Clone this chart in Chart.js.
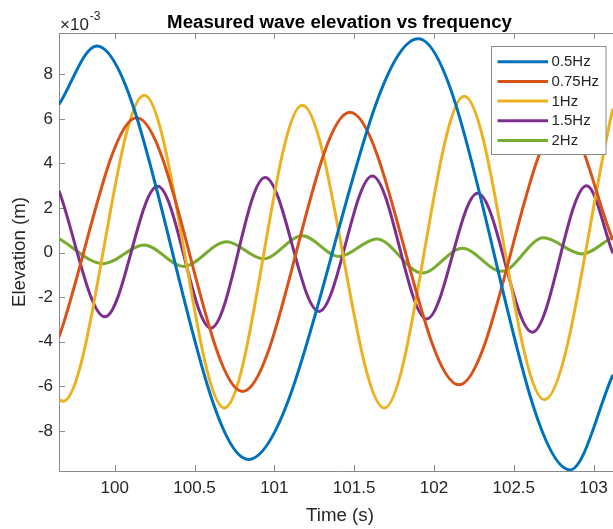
<!DOCTYPE html>
<html lang="en">
<head>
<meta charset="UTF-8">
<title>Measured wave elevation vs frequency</title>
<script src="https://cdn.jsdelivr.net/npm/chart.js"></script>
<style>
    html, body { margin: 0; padding: 0; background: #fff; overflow: hidden; }
    #wrap { width: 625px; height: 529px; }
</style>
</head>
<body>
<div id="wrap"><canvas id="waveChart" width="625" height="529"></canvas></div>
<script>
// values: time (s), elevation (x1e-3 m) at ends, crests and troughs
const seriesLabels = ['0.5Hz', '0.75Hz', '1Hz', '1.5Hz', '2Hz'];
const seriesColors = ['#0072BD', '#D95319', '#EDB120', '#7E2F8E', '#77AC30'];

const t05 = [99.651, 99.887, 100.837, 101.902, 102.853, 103.121];
const e05 = [6.64, 9.27, -9.28, 9.59, -9.75, -5.49];

const t075 = [99.651, 100.138, 100.802, 101.474, 102.157, 102.81, 103.121];
const e075 = [-3.79, 6.05, -6.23, 6.29, -5.93, 6.0, 0.56];

const t1 = [99.651, 99.678, 100.185, 100.687, 101.175, 101.689, 102.19, 102.692, 103.121];
const e1 = [-6.6, -6.67, 7.06, -6.97, 6.61, -6.97, 7.01, -6.6, 6.46];

const t15 = [99.651, 99.939, 100.269, 100.603, 100.942, 101.28, 101.614, 101.955, 102.274, 102.617, 102.957, 103.121];
const e15 = [2.77, -2.88, 2.97, -3.39, 3.37, -2.64, 3.44, -2.98, 2.66, -3.57, 3.0, -0.03];

const t2 = [99.651, 99.929, 100.185, 100.43, 100.702, 100.931, 101.175, 101.405, 101.642, 101.927, 102.178, 102.425, 102.686, 102.926, 103.121];
const e2 = [0.63, -0.5, 0.34, -0.62, 0.49, -0.28, 0.75, -0.18, 0.61, -0.92, 0.19, -0.84, 0.66, -0.06, 0.71];

const xTicks = [100, 100.5, 101, 101.5, 102, 102.5, 103];
const yTicks = [-8, -6, -4, -2, 0, 2, 4, 6, 8];

const FONT = '"Liberation Sans", Arial, Helvetica, sans-serif';
const TXT = '#262626';
const AXIS = '#8a8a8a';

function toPoints(ts, es) {
    return ts.map((t, i) => ({ x: t, y: es[i] }));
}

const allT = [t05, t075, t1, t15, t2];
const allE = [e05, e075, e1, e15, e2];

const datasets = seriesLabels.map((lab, i) => ({
    label: lab,
    data: toPoints(allT[i], allE[i]),
    borderColor: seriesColors[i],
    backgroundColor: seriesColors[i],
    borderWidth: 3,
    pointRadius: 0,
    cubicInterpolationMode: 'monotone',
    clip: 0
}));

// matlab style box: top line + inward ticks
const boxTicks = {
    id: 'boxTicks',
    beforeDatasetsDraw(chart) {
        const { ctx, chartArea: a, scales } = chart;
        ctx.save();
        ctx.strokeStyle = AXIS;
        ctx.lineWidth = 1;
        ctx.beginPath();
        ctx.moveTo(a.left, a.top + 0.5);
        ctx.lineTo(a.right, a.top + 0.5);
        ctx.moveTo(a.right - 0.5, a.top);
        ctx.lineTo(a.right - 0.5, a.bottom);
        scales.x.ticks.forEach(tk => {
            const px = Math.round(scales.x.getPixelForValue(tk.value)) + 0.5;
            ctx.moveTo(px, a.bottom);
            ctx.lineTo(px, a.bottom - 6);
            ctx.moveTo(px, a.top);
            ctx.lineTo(px, a.top + 6);
        });
        scales.y.ticks.forEach(tk => {
            const py = Math.round(scales.y.getPixelForValue(tk.value)) + 0.5;
            ctx.moveTo(a.left, py);
            ctx.lineTo(a.left + 6, py);
            ctx.moveTo(a.right, py);
            ctx.lineTo(a.right - 6, py);
        });
        ctx.stroke();
        ctx.restore();
    }
};

const legendBox = {
    id: 'legendBox',
    afterDatasetsDraw(chart) {
        const { ctx } = chart;
        const x0 = 491.5, y0 = 46.5, w = 114.5, h = 108;
        ctx.save();
        ctx.fillStyle = '#fff';
        ctx.fillRect(x0, y0, w, h);
        ctx.strokeStyle = AXIS;
        ctx.lineWidth = 1;
        ctx.strokeRect(x0, y0, w, h);
        ctx.font = '15px ' + FONT;
        ctx.textBaseline = 'middle';
        chart.data.datasets.forEach((ds, i) => {
            const cy = 61.7 + i * 19.7;
            ctx.strokeStyle = ds.borderColor;
            ctx.lineWidth = 3;
            ctx.beginPath();
            ctx.moveTo(497.5, cy);
            ctx.lineTo(548, cy);
            ctx.stroke();
            ctx.fillStyle = TXT;
            ctx.fillText(ds.label, 551.5, cy + 0.5);
        });
        ctx.restore();
    }
};

const headText = {
    id: 'headText',
    afterDraw(chart) {
        const { ctx } = chart;
        ctx.save();
        ctx.fillStyle = '#000';
        ctx.textAlign = 'center';
        ctx.textBaseline = 'alphabetic';
        ctx.font = 'bold 18.7px ' + FONT;
        ctx.fillText('Measured wave elevation vs frequency', 339.5, 28);
        ctx.fillStyle = TXT;
        ctx.textAlign = 'left';
        ctx.font = '17px ' + FONT;
        ctx.fillText('\u00d710', 60, 29.5);
        const w = ctx.measureText('\u00d710').width;
        ctx.font = '12px ' + FONT;
        ctx.fillText('-3', 60 + w + 1, 20);
        ctx.restore();
    }
};

const ctx = document.getElementById('waveChart').getContext('2d');
const waveChart = new Chart(ctx, {
    type: 'line',
    data: { datasets: datasets },
    options: {
        responsive: false,
        animation: false,
        layout: { padding: { top: 33, right: 4, left: 0, bottom: 0 } },
        plugins: {
            legend: { display: false },
            tooltip: { enabled: false },
            title: { display: false }
        },
        scales: {
            x: {
                type: 'linear',
                min: 99.651,
                max: 103.172,
                afterBuildTicks: s => { s.ticks = xTicks.map(v => ({ value: v })); },
                afterFit: s => { s.height = 58; },
                grid: { display: false, drawTicks: false },
                border: { display: true, color: AXIS, width: 1 },
                ticks: {
                    font: { family: FONT, size: 17 },
                    color: TXT,
                    padding: 7,
                    maxRotation: 0,
                    autoSkip: false,
                    callback: v => String(Math.round(v * 10) / 10)
                },
                title: {
                    display: true,
                    text: 'Time (s)',
                    font: { family: FONT, size: 18.7 },
                    color: TXT,
                    padding: { top: 0, bottom: 2 }
                }
            },
            y: {
                min: -9.8,
                max: 9.85,
                afterBuildTicks: s => { s.ticks = yTicks.map(v => ({ value: v })); },
                afterFit: s => { s.width = 59; },
                grid: { display: false, drawTicks: false },
                border: { display: true, color: AXIS, width: 1 },
                ticks: {
                    font: { family: FONT, size: 17 },
                    color: TXT,
                    padding: 6
                },
                title: {
                    display: true,
                    text: 'Elevation (m)',
                    font: { family: FONT, size: 18.7 },
                    color: TXT,
                    padding: { top: 9, bottom: 0 }
                }
            }
        }
    },
    plugins: [boxTicks, legendBox, headText]
});
</script>
</body>
</html>
